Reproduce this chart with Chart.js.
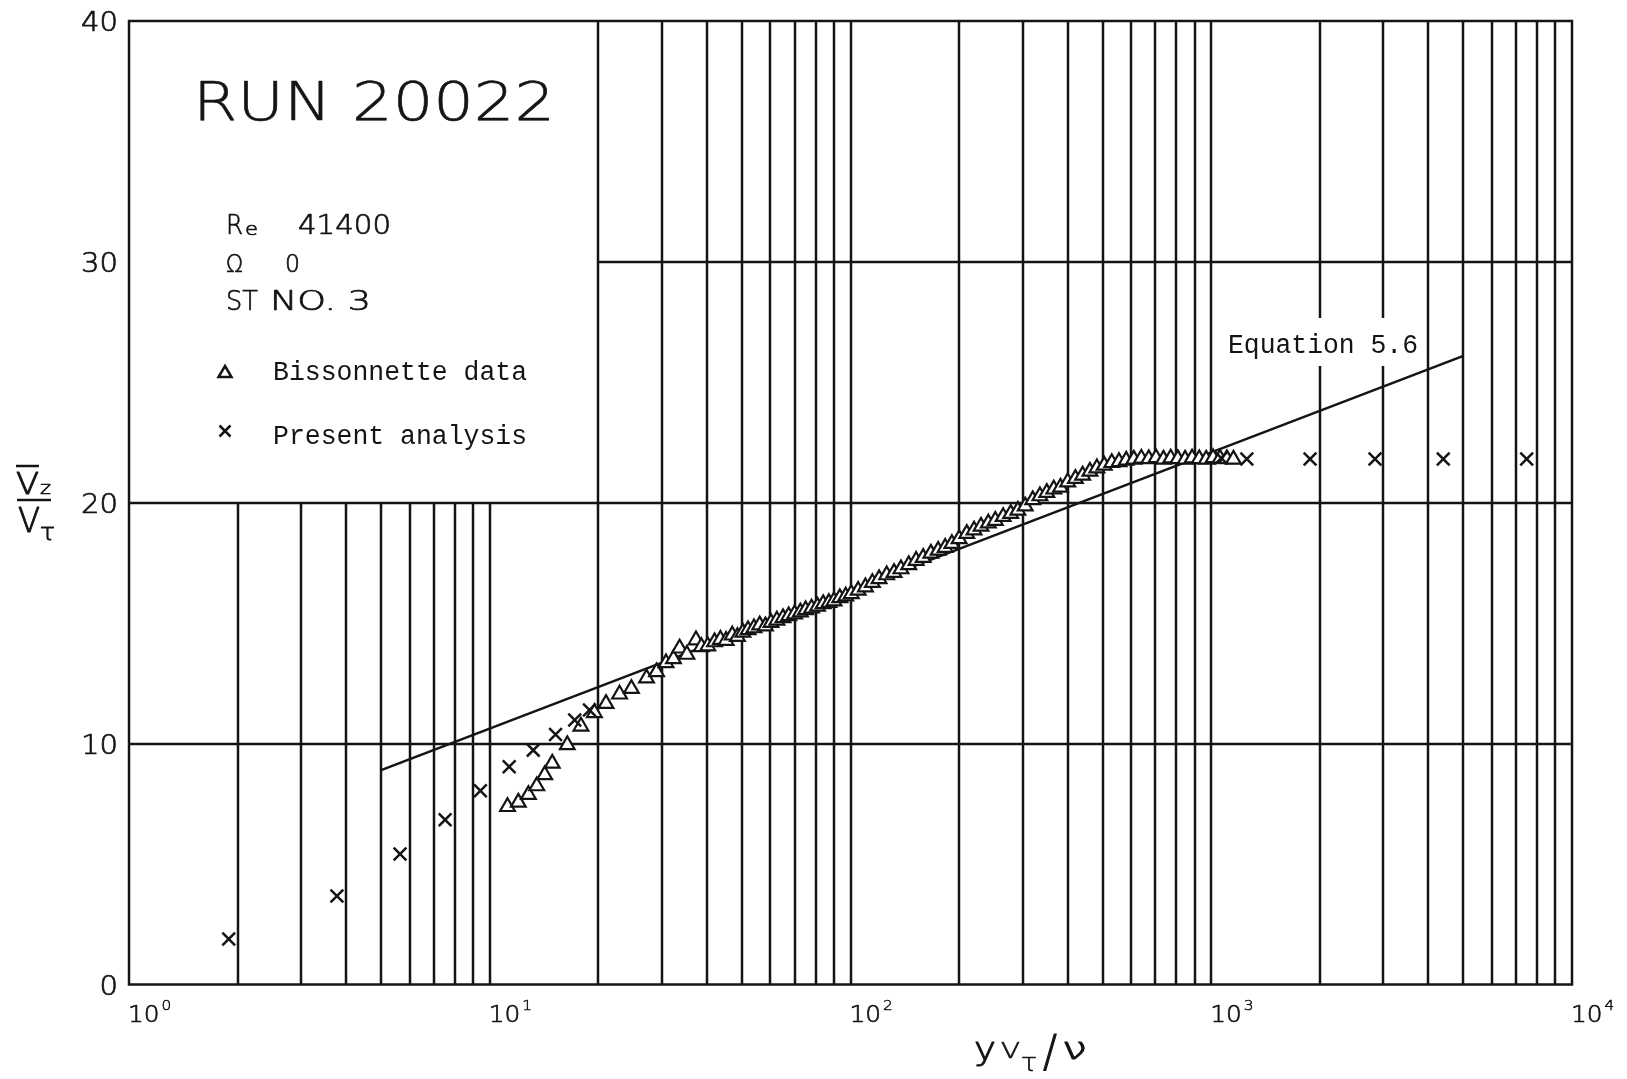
<!DOCTYPE html>
<html>
<head>
<meta charset="utf-8">
<title>RUN 20022</title>
<script src="https://cdn.jsdelivr.net/npm/chart.js@4.4.1/dist/chart.umd.min.js"></script>
<style>
  html, body { margin: 0; padding: 0; background: #fff; }
  canvas { display: block; }
</style>
</head>
<body>
<canvas id="c" width="1627" height="1079"></canvas>
<script>
// Axis ticks
const xDecades = [1, 10, 100, 1000, 10000];
const xTickExponents = ['0', '1', '2', '3', '4'];
const yTicks = [0, 10, 20, 30, 40];

// Bissonnette data (triangles)
const bissonnetteX = [11.2, 12.0, 12.8, 13.5, 14.2, 14.9, 16.4, 17.9, 19.5, 21.0,
  22.9, 24.7, 27.2, 29.0, 30.8, 32.3, 33.6, 35.2, 37.3, 38.6,
  40.2, 42.0, 43.6, 45.2, 47.0, 48.6, 50.3, 52.0, 54.0, 56.0,
  58.1, 60.2, 62.5, 65.0, 67.4, 70.0, 72.6, 75.1, 78.0, 81.0,
  84.0, 87.1, 90.0, 93.4, 97.0, 100.5, 105, 110, 115, 120,
  126, 132, 138, 145, 152, 159, 167, 175, 183, 191,
  200, 210, 220, 230, 241, 252, 265, 278, 291, 305,
  320, 335, 350, 366, 382, 400, 420, 440, 461, 482,
  505, 530, 555, 581, 610, 640, 671, 703, 737, 772,
  808, 846, 885, 926, 968, 1012, 1058, 1105, 1152];
const bissonnetteY = [7.38, 7.56, 7.88, 8.24, 8.70, 9.18, 9.95, 10.72, 11.28, 11.66,
  12.05, 12.28, 12.72, 12.98, 13.35, 13.52, 13.96, 13.70, 14.30, 14.02,
  14.05, 14.22, 14.32, 14.28, 14.50, 14.44, 14.62, 14.72, 14.80, 14.92,
  14.88, 15.02, 15.12, 15.22, 15.30, 15.38, 15.46, 15.55, 15.62, 15.70,
  15.80, 15.85, 15.92, 16.05, 16.12, 16.22, 16.36, 16.50, 16.68, 16.84,
  17.00, 17.10, 17.25, 17.42, 17.60, 17.72, 17.90, 18.02, 18.14, 18.30,
  18.50, 18.72, 18.86, 19.02, 19.15, 19.26, 19.42, 19.55, 19.68, 19.86,
  20.12, 20.28, 20.42, 20.56, 20.64, 20.86, 21.00, 21.14, 21.30, 21.44,
  21.55, 21.66, 21.70, 21.76, 21.80, 21.84, 21.82, 21.86, 21.80, 21.85,
  21.82, 21.80, 21.85, 21.82, 21.80, 21.86, 21.84, 21.82, 21.80];

// Present analysis (crosses)
const presentX = [1.89, 3.77, 5.64, 7.52, 9.42, 11.32, 13.2, 15.22, 17.2, 18.9,
  1066, 1255, 1879, 2844, 4397, 7489];
const presentY = [1.89, 3.67, 5.42, 6.84, 8.04, 9.04, 9.73, 10.38, 10.98, 11.40,
  21.86, 21.82, 21.82, 21.82, 21.82, 21.82];

// Equation 5.6, a straight line on the semi-log axes
const eq56X = [5, 5000];
const eq56Y = [8.9, 26.1];

const PLOT_FONT = '"DejaVu Sans", "Noto Sans", sans-serif';
const PLOT_WEIGHT = '200';
const TYPE_FONT = '"Liberation Mono", "DejaVu Sans Mono", monospace';
const INK = '#141414';

// Draw text, stretched horizontally to a given width (or by a factor).
// Plotter lettering gets a thin outline so its single strokes read a little heavier.
function stretchText(ctx, text, x, y, size, family, opt = {}) {
  ctx.save();
  const plotter = family === PLOT_FONT;
  const weight = opt.weight || (plotter ? PLOT_WEIGHT : '400');
  ctx.font = weight + ' ' + size + 'px ' + family;
  ctx.textBaseline = 'alphabetic';
  ctx.textAlign = 'left';
  const w = ctx.measureText(text).width;
  const sx = opt.width ? opt.width / w : (opt.sx || 1);
  let left = x;
  if (opt.align === 'right') left = x - w * sx;
  else if (opt.align === 'center') left = x - w * sx / 2;
  ctx.translate(left, y);
  ctx.scale(sx, 1);
  ctx.fillStyle = INK;
  ctx.fillText(text, 0, 0);
  if (plotter) {
    ctx.strokeStyle = INK;
    ctx.lineWidth = opt.stroke || 0.7;
    ctx.lineJoin = 'round';
    ctx.strokeText(text, 0, 0);
  }
  ctx.restore();
  return left + w * sx;
}

function seg(ctx, x1, y1, x2, y2) {
  ctx.beginPath();
  ctx.moveTo(x1, y1);
  ctx.lineTo(x2, y2);
  ctx.stroke();
}

const paperPlugin = {
  id: 'paper',
  beforeDraw(chart) {
    const ctx = chart.ctx;
    ctx.save();
    ctx.fillStyle = '#fff';
    ctx.fillRect(0, 0, chart.width, chart.height);
    ctx.restore();
  },
  beforeDatasetsDraw(chart) {
    const { ctx, chartArea: a, scales: { x, y } } = chart;
    ctx.save();
    ctx.strokeStyle = INK;
    ctx.lineWidth = 2.5;
    const y20 = y.getPixelForValue(20);
    const x20 = x.getPixelForValue(20);
    // log-cycle verticals; the info box (x < 20, y > 20) is left open
    for (let d = 0; d < xDecades.length - 1; d++) {
      for (let m = 2; m <= 10; m++) {
        const v = m * xDecades[d];
        if (v >= xDecades[xDecades.length - 1]) continue;
        const px = Math.round(x.getPixelForValue(v));
        seg(ctx, px, v < 20 ? y20 : a.top, px, a.bottom);
      }
    }
    // horizontals
    for (const v of yTicks) {
      if (v === yTicks[0] || v === yTicks[yTicks.length - 1]) continue;
      const py = Math.round(y.getPixelForValue(v));
      seg(ctx, v > 20 ? x20 : a.left, py, a.right, py);
    }
    ctx.strokeRect(a.left, a.top, a.right - a.left, a.bottom - a.top);
    // clear space behind the equation label
    ctx.fillStyle = '#fff';
    ctx.fillRect(1222, 318, 200, 48);
    ctx.restore();
  },
  afterDraw(chart) {
    const { ctx, chartArea: a, scales: { x, y } } = chart;
    ctx.save();
    ctx.strokeStyle = INK;
    ctx.fillStyle = INK;

    // y tick labels
    for (const v of yTicks) {
      const py = y.getPixelForValue(v);
      stretchText(ctx, String(v), a.left - 11, py + 10, 26, PLOT_FONT, { align: 'right', sx: 1.12 });
    }
    // x tick labels: 10 with exponent
    xDecades.forEach((d, i) => {
      const px = x.getPixelForValue(d);
      const end = stretchText(ctx, '10', px - 1, a.bottom + 37, 23, PLOT_FONT, { sx: 1.08 });
      stretchText(ctx, xTickExponents[i], end + 2, a.bottom + 25, 14, PLOT_FONT, { sx: 1.1, stroke: 0.5 });
    });

    // x-axis title  y V_tau / nu
    stretchText(ctx, 'y', 974, 1060, 32, PLOT_FONT, { width: 22, stroke: 1 });
    stretchText(ctx, 'V', 1001, 1058, 22, PLOT_FONT, { width: 19 });
    stretchText(ctx, 'τ', 1021, 1071, 24, PLOT_FONT, { width: 16 });
    stretchText(ctx, '/', 1043, 1067, 44, PLOT_FONT, { width: 14, stroke: 1 });
    stretchText(ctx, 'ν', 1062, 1059, 30, PLOT_FONT, { width: 25, stroke: 1 });

    // y-axis title: mean V_z over V_tau
    ctx.lineWidth = 2.5;
    stretchText(ctx, 'V', 16, 494, 31, PLOT_FONT, { width: 23, stroke: 1 });
    seg(ctx, 16, 466, 39, 466);
    stretchText(ctx, 'z', 40, 494, 17, PLOT_FONT, { width: 11 });
    seg(ctx, 17, 500, 51, 500);
    stretchText(ctx, 'V', 18, 532, 33, PLOT_FONT, { width: 22, stroke: 1 });
    stretchText(ctx, 'τ', 40, 540, 23, PLOT_FONT, { width: 15, stroke: 1 });

    // info box
    stretchText(ctx, 'RUN 20022', 193, 120, 54, PLOT_FONT, { width: 362, stroke: 0.6 });
    stretchText(ctx, 'R', 226, 234, 27, PLOT_FONT, { width: 17 });
    stretchText(ctx, 'e', 245, 235, 17, PLOT_FONT, { width: 13 });
    stretchText(ctx, '41400', 298, 234, 27, PLOT_FONT, { width: 93 });
    stretchText(ctx, 'Ω', 226, 272, 24, PLOT_FONT, { width: 17 });
    stretchText(ctx, '0', 285, 272, 24, PLOT_FONT, { width: 15 });
    stretchText(ctx, 'ST', 226, 310, 27, PLOT_FONT, { width: 32 });
    stretchText(ctx, 'NO. 3', 270, 310, 27, PLOT_FONT, { width: 101 });

    // legend symbols and entries
    ctx.lineWidth = 2.5;
    ctx.beginPath();
    ctx.moveTo(225, 366);
    ctx.lineTo(231.5, 377);
    ctx.lineTo(218.5, 377);
    ctx.closePath();
    ctx.stroke();
    stretchText(ctx, 'Bissonnette data', 273, 380, 27, TYPE_FONT, { width: 254 });
    ctx.lineWidth = 2.5;
    seg(ctx, 219.5, 425.5, 230.5, 436.5);
    seg(ctx, 230.5, 425.5, 219.5, 436.5);
    stretchText(ctx, 'Present analysis', 273, 444, 27, TYPE_FONT, { width: 254 });

    // equation label
    stretchText(ctx, 'Equation 5.6', 1228, 353, 27, TYPE_FONT, { width: 190 });
    ctx.restore();
  }
};

const toPoints = (xs, ys) => xs.map((v, i) => ({ x: v, y: ys[i] }));

new Chart(document.getElementById('c'), {
  type: 'scatter',
  data: {
    datasets: [
      {
        label: 'Present analysis',
        data: toPoints(presentX, presentY),
        pointStyle: 'crossRot',
        pointRadius: 9,
        pointHoverRadius: 9,
        borderColor: INK,
        borderWidth: 2.5
      },
      {
        label: 'Bissonnette data',
        data: toPoints(bissonnetteX, bissonnetteY),
        pointStyle: 'triangle',
        pointRadius: 8.5,
        pointHoverRadius: 8.5,
        backgroundColor: '#fff',
        borderColor: INK,
        borderWidth: 2.2
      },
      {
        label: 'Equation 5.6',
        type: 'line',
        data: toPoints(eq56X, eq56Y),
        borderColor: INK,
        borderWidth: 2.5,
        pointRadius: 0,
        fill: false,
        tension: 0
      }
    ]
  },
  options: {
    responsive: false,
    animation: false,
    devicePixelRatio: 1,
    events: [],
    layout: { padding: { left: 129, top: 21, right: 55, bottom: 94.5 } },
    plugins: { legend: { display: false }, tooltip: { enabled: false }, title: { display: false } },
    scales: {
      x: { type: 'logarithmic', min: 1, max: 10000, display: false },
      y: { type: 'linear', min: 0, max: 40, display: false }
    }
  },
  plugins: [paperPlugin]
});
</script>
</body>
</html>
